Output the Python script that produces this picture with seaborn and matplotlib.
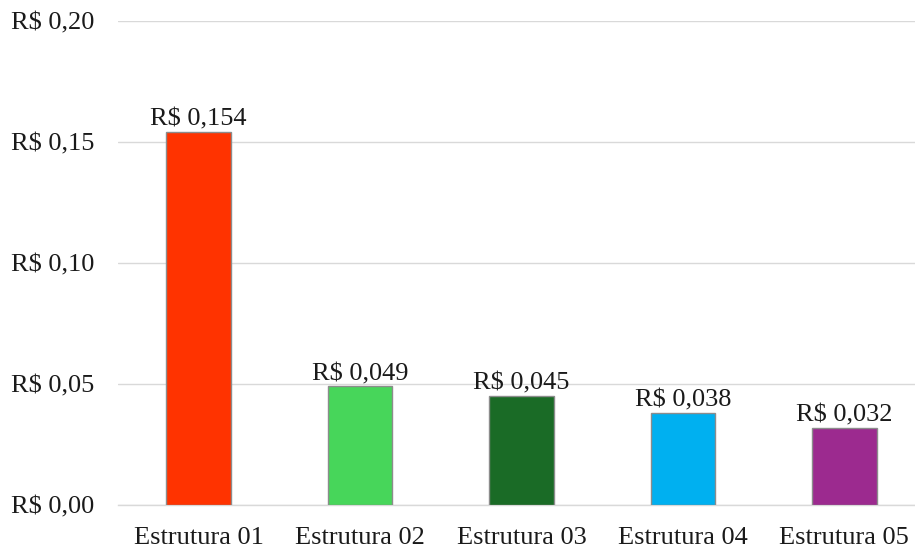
import matplotlib
matplotlib.use("Agg")
import matplotlib.pyplot as plt
import seaborn as sns
import pandas as pd

categories = ["Estrutura 01", "Estrutura 02", "Estrutura 03", "Estrutura 04", "Estrutura 05"]
values = [0.154, 0.049, 0.045, 0.038, 0.032]
colors = ["#FF3300", "#47D65A", "#1A6B26", "#00B0F0", "#9C2A8F"]
yticks = [0.00, 0.05, 0.10, 0.15, 0.20]


def brl(v, decimals):
    return "R$ " + f"{v:.{decimals}f}".replace(".", ",")


sns.set_theme(style="white")
plt.rcParams["font.family"] = ["Liberation Serif", "DejaVu Serif"]

df = pd.DataFrame({"cat": categories, "val": values})

fig = plt.figure(figsize=(9.15, 5.5), dpi=100)
ax = fig.add_axes([118 / 915, 45 / 550, 807 / 915, 484 / 550])

sns.barplot(data=df, x="cat", y="val", hue="cat", palette=colors, width=0.4,
            saturation=1, edgecolor="#8C8C8C", linewidth=1.0, legend=False,
            ax=ax, zorder=3)

fs = 19
ax.set_ylim(0, 0.20)
ax.set_xlim(-0.5, len(categories) - 0.5)
ax.set_yticks(yticks)
ax.set_yticklabels([brl(t, 2) for t in yticks], fontsize=fs, color="#1a1a1a")
ax.tick_params(axis="x", labelsize=fs, colors="#1a1a1a", pad=16, length=0)
ax.tick_params(axis="y", pad=17, length=0)
ax.set_xlabel("")
ax.set_ylabel("")
ax.yaxis.grid(True, color="#D9D9D9", linewidth=1.0, zorder=0)
ax.set_axisbelow(True)
for s in ["top", "right", "left"]:
    ax.spines[s].set_visible(False)
ax.spines["bottom"].set_color("#D9D9D9")
ax.spines["bottom"].set_linewidth(1.0)

for i, v in enumerate(values):
    ax.annotate(brl(v, 3), (i, v), xytext=(0, 1), textcoords="offset points",
                ha="center", va="bottom", fontsize=fs, color="#1a1a1a")

fig.savefig("out.png", dpi=100)
